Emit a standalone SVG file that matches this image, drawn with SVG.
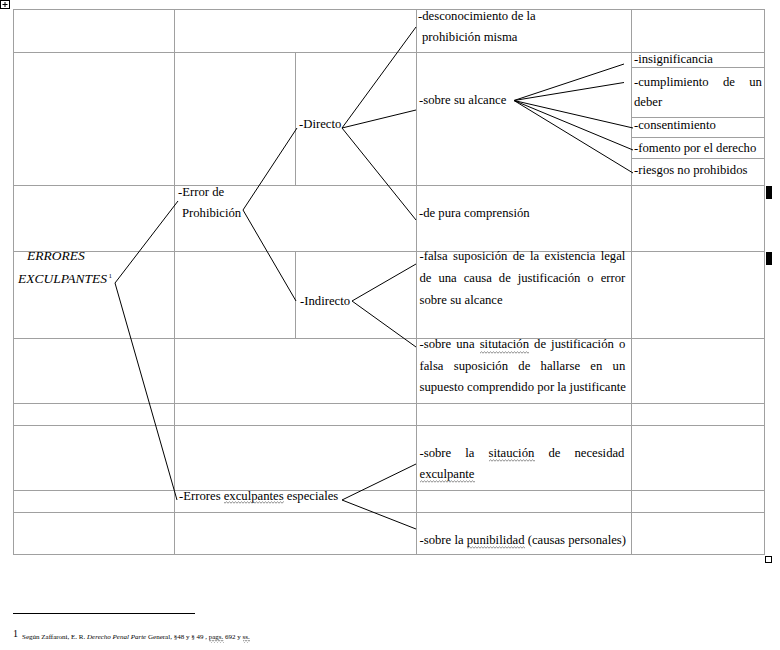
<svg xmlns="http://www.w3.org/2000/svg" width="780" height="650" viewBox="0 0 780 650">
<style>
.t{font-family:"Liberation Serif","Times New Roman",serif;font-size:12.7px;fill:#000}
.it{font-family:"Liberation Serif","Times New Roman",serif;font-style:italic;font-size:13.5px;fill:#000}
.fn{font-family:"Liberation Serif","Times New Roman",serif;font-size:7px;fill:#000}
.grid{stroke:#a0a0a0;stroke-width:1;fill:none}
.conn line{stroke:#000;stroke-width:1}
.sq{fill:url(#squig)}
</style>
<defs>
<pattern id="squig" x="0" y="0" width="3" height="3" patternUnits="userSpaceOnUse">
<path d="M0 2.2 L1.5 0.8 L3 2.2" stroke="#707070" stroke-width="0.8" fill="none"/>
</pattern>
</defs>
<rect width="780" height="650" fill="#fff"/>

<!-- table move handle -->
<g id="handle">
<rect x="0.5" y="0.5" width="9" height="8" fill="#fff" stroke="#000" stroke-width="1"/>
<path d="M5 2 V7 M2.5 4.5 H7.5" stroke="#000" stroke-width="1" fill="none"/>
</g>

<!-- table grid -->
<g id="table">
<path class="grid" d="M13 9.5H764.5 M13 52.5H764.5 M13 185.5H764.5 M13 251.5H764.5 M13 338.5H764.5 M13 403.5H764.5 M13 425.5H764.5 M13 490.5H764.5 M13 512.5H764.5 M13 554.5H764.5
M631 67.5H764.5 M631 117.5H764.5 M631 137.5H764.5 M631 158.5H764.5
M13.5 9V555 M174.5 9V555 M416.5 9V555 M631.5 9V555 M764.5 9V555
M295.5 52V186 M295.5 251V339"/>
<rect x="766" y="186" width="6" height="13" fill="#000"/>
<rect x="766" y="252" width="6" height="13" fill="#000"/>
<rect x="765.5" y="556.5" width="6" height="6" fill="#fff" stroke="#000" stroke-width="1"/>
</g>

<!-- connectors -->
<g id="connectors" class="conn">
<line x1="115" y1="283" x2="178" y2="201"/>
<line x1="115" y1="283" x2="177" y2="500"/>
<line x1="243" y1="210" x2="297" y2="128"/>
<line x1="243" y1="210" x2="296" y2="301"/>
<line x1="342" y1="128" x2="416" y2="27"/>
<line x1="342" y1="128" x2="416" y2="110"/>
<line x1="342" y1="128" x2="416" y2="220"/>
<line x1="352" y1="301" x2="416" y2="264"/>
<line x1="352" y1="301" x2="416" y2="347"/>
<line x1="342" y1="500" x2="416" y2="464"/>
<line x1="342" y1="500" x2="416" y2="529"/>
<line x1="514" y1="100.5" x2="624" y2="64"/>
<line x1="514" y1="100.5" x2="624" y2="82.5"/>
<line x1="514" y1="100.5" x2="633" y2="128"/>
<line x1="514" y1="100.5" x2="633" y2="150"/>
<line x1="514" y1="100.5" x2="633" y2="173"/>
</g>

<!-- nodes -->
<g id="n-errores-exculpantes">
<text class="it" x="27" y="260">ERRORES</text>
<text class="it" x="18" y="282.5">EXCULPANTES</text>
<text class="fn" x="108.5" y="278">1</text>
</g>
<g id="n-error-prohibicion">
<text class="t" x="178" y="195.5">-Error de</text>
<text class="t" x="182" y="217">Prohibición</text>
</g>
<g id="n-directo"><text class="t" x="299" y="128">-Directo</text></g>
<g id="n-indirecto"><text class="t" x="300" y="305">-Indirecto</text></g>
<g id="n-errores-especiales">
<text class="t" x="179" y="500">-Errores exculpantes especiales</text>
<rect class="sq" x="224" y="501" width="60" height="3"/>
</g>
<g id="n-desconocimiento">
<text class="t" x="418" y="20">-desconocimiento de la</text>
<text class="t" x="422" y="41">prohibición misma</text>
</g>
<g id="n-sobre-alcance"><text class="t" x="419" y="104">-sobre su alcance</text></g>
<g id="n-pura-comprension"><text class="t" x="419" y="217">-de pura comprensión</text></g>
<g id="n-insignificancia"><text class="t" x="634" y="62.5">-insignificancia</text></g>
<g id="n-cumplimiento">
<text class="t" x="634" y="86" style="word-spacing:11.1px">-cumplimiento de un</text>
<text class="t" x="634" y="105.5">deber</text>
</g>
<g id="n-consentimiento"><text class="t" x="634" y="129">-consentimiento</text></g>
<g id="n-fomento"><text class="t" x="634" y="151.5">-fomento por el derecho</text></g>
<g id="n-riesgos"><text class="t" x="634" y="173.5">-riesgos no prohibidos</text></g>
<g id="n-falsa-suposicion">
<text class="t" x="419.5" y="260" style="word-spacing:2.2px">-falsa suposición de la existencia legal</text>
<text class="t" x="419.5" y="282" style="word-spacing:3.77px">de una causa de justificación o error</text>
<text class="t" x="419.5" y="304">sobre su alcance</text>
</g>
<g id="n-situacion-justificacion">
<text class="t" x="419.5" y="348" style="word-spacing:1.9px">-sobre una situtación de justificación o</text>
<text class="t" x="419.5" y="369.5" style="word-spacing:7.12px">falsa suposición de hallarse en un</text>
<text class="t" x="419.5" y="391">supuesto comprendido por la justificante</text>
<rect class="sq" x="480" y="351" width="49" height="3"/>
</g>
<g id="n-necesidad">
<text class="t" x="419.5" y="457" style="word-spacing:10.9px">-sobre la sitaución de necesidad</text>
<text class="t" x="419.5" y="478">exculpante</text>
<rect class="sq" x="489" y="459" width="46" height="3"/>
<rect class="sq" x="420" y="480" width="55" height="3"/>
</g>
<g id="n-punibilidad">
<text class="t" x="419.5" y="544">-sobre la punibilidad (causas personales)</text>
<rect class="sq" x="467" y="546" width="58" height="3"/>
</g>

<!-- footnote -->
<g id="footnote">
<line x1="13" y1="613.5" x2="195" y2="613.5" stroke="#000" stroke-width="1"/>
<text x="13" y="637" style="font-family:'Liberation Serif',serif;font-size:10px">1</text>
<text class="fn" x="22" y="639">Según Zaffaroni, E. R. <tspan font-style="italic">Derecho Penal Parte</tspan> General, §48 y § 49 , pags. 692 y ss.</text>
<rect class="sq" x="209" y="640" width="15" height="3"/>
<rect class="sq" x="243" y="640" width="7" height="3"/>
</g>
</svg>
